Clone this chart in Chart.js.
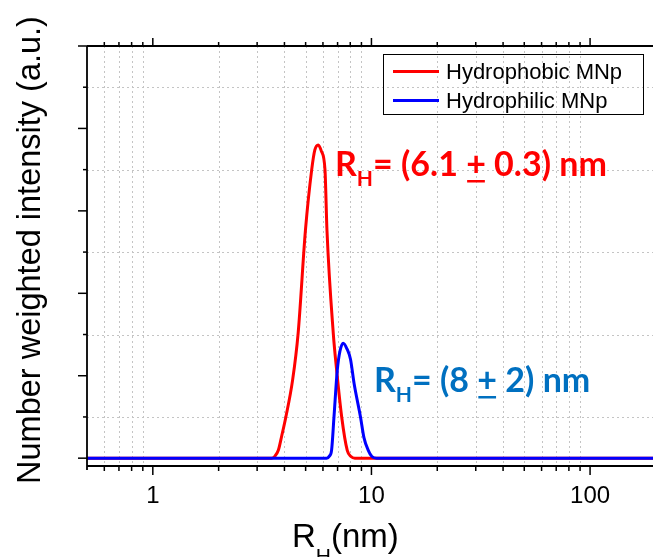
<!DOCTYPE html>
<html>
<head>
<meta charset="utf-8">
<script src="https://cdn.jsdelivr.net/npm/chart.js@4.4.1/dist/chart.umd.min.js"></script>
<style>
  html, body { margin: 0; padding: 0; background: #fff; }
  #wrap { width: 653px; height: 557px; }
</style>
</head>
<body>
<div id="wrap"><canvas id="dls"></canvas></div>
<script>
// values (R_H in nm, intensity in a.u.)
const hydrophobicX = [0.5, 3.49, 3.62, 3.75, 3.89, 4.06, 4.36, 4.62, 4.99, 5.33, 5.51, 5.71, 5.90, 6.13, 6.26, 6.69, 6.93, 7.31, 7.75, 8.06, 8.40, 194];
const hydrophobicY = [0, 0, 0.05, 0.19, 0.55, 1.0, 1.9, 3.03, 5.53, 7.0, 7.48, 7.6, 7.45, 7.0, 5.53, 3.03, 2.14, 1.0, 0.19, 0.04, 0, 0];
const hydrophilicX = [0.5, 6.24, 6.42, 6.57, 6.74, 6.98, 7.18, 7.43, 7.73, 8.02, 8.33, 8.91, 9.24, 9.67, 10.05, 10.56, 194];
const hydrophilicY = [0, 0, 0.05, 0.19, 1.0, 2.14, 2.6, 2.79, 2.65, 2.4, 1.81, 1.0, 0.5, 0.19, 0.04, 0, 0];
const seriesNames = ['Hydrophobic MNp', 'Hydrophilic MNp'];
const xMajorTicks = [1, 10, 100];
const yTicks = [0, 1, 2, 3, 4, 5, 6, 7, 8, 9, 10];

const toPoints = (xs, ys) => xs.map((x, i) => ({ x: x, y: ys[i] }));

const axisFont = '"Liberation Sans", Arial, sans-serif';
const noteFont = 'Lato, "Open Sans", sans-serif';

function drawRich(ctx, parts, x, y) {
    let cx = x;
    parts.forEach((p) => {
        ctx.font = `${p.weight || 'normal'} ${p.size}px ${p.family}`;
        ctx.fillStyle = p.color;
        ctx.textAlign = 'left';
        ctx.textBaseline = 'alphabetic';
        ctx.fillText(p.text, cx, y + (p.dy || 0));
        const w = ctx.measureText(p.text).width;
        if (p.underline) {
            ctx.fillRect(cx + 1, y + p.underline, w - 2, 2.5);
        }
        cx += w;
    });
}

const frameAndGrid = {
    id: 'frameAndGrid',
    beforeDatasetsDraw(chart) {
        const { ctx, chartArea: a, scales } = chart;
        const xs = scales.x, ys = scales.y;
        ctx.save();
        ctx.strokeStyle = '#c4c4c4';
        ctx.lineWidth = 1;
        ctx.setLineDash([2, 3]);
        // horizontal grid on odd values
        yTicks.filter((v) => v % 2 === 1).forEach((v) => {
            const py = Math.round(ys.getPixelForValue(v)) + 0.5;
            ctx.beginPath();
            ctx.moveTo(a.left, py);
            ctx.lineTo(a.right, py);
            ctx.stroke();
        });
        // vertical grid on minor log values
        [0.1, 1, 10, 100].forEach((d) => {
            for (let m = 2; m <= 9; m++) {
                const v = m * d;
                if (v <= xs.min || v >= xs.max) continue;
                const px = Math.round(xs.getPixelForValue(v)) + 0.5;
                ctx.beginPath();
                ctx.moveTo(px, a.top);
                ctx.lineTo(px, a.bottom);
                ctx.stroke();
            }
        });
        ctx.restore();
    },
    afterDraw(chart) {
        const { ctx, chartArea: a, scales } = chart;
        const xs = scales.x, ys = scales.y;
        ctx.save();
        ctx.strokeStyle = '#000';
        ctx.lineWidth = 1.8;
        ctx.setLineDash([]);
        ctx.beginPath();
        ctx.moveTo(a.left, a.top);
        ctx.lineTo(a.right, a.top);
        ctx.moveTo(a.left, a.top);
        ctx.lineTo(a.left, a.bottom + 4);
        ctx.moveTo(a.left, a.bottom);
        ctx.lineTo(a.right, a.bottom);
        ctx.stroke();

        ctx.lineWidth = 1.5;
        // y ticks
        yTicks.forEach((v) => {
            const py = ys.getPixelForValue(v);
            const len = v % 2 === 0 ? 9 : 4;
            ctx.beginPath();
            ctx.moveTo(a.left, py);
            ctx.lineTo(a.left - len, py);
            ctx.stroke();
        });
        // x ticks, bottom and top
        [0.1, 1, 10, 100].forEach((d) => {
            for (let m = 1; m <= 9; m++) {
                const v = m * d;
                if (v <= xs.min || v >= xs.max) continue;
                const px = xs.getPixelForValue(v);
                const major = m === 1;
                ctx.beginPath();
                ctx.moveTo(px, a.bottom);
                ctx.lineTo(px, a.bottom + (major ? 9 : 5));
                ctx.moveTo(px, a.top);
                ctx.lineTo(px, a.top - (major ? 8 : 4));
                ctx.stroke();
            }
        });

        // x tick labels
        ctx.fillStyle = '#000';
        ctx.font = `24px ${axisFont}`;
        ctx.textAlign = 'center';
        ctx.textBaseline = 'alphabetic';
        xMajorTicks.forEach((v) => {
            ctx.fillText(String(v), xs.getPixelForValue(v), 503);
        });

        // x title
        drawRich(ctx, [
            { text: 'R', size: 33, family: axisFont, color: '#000' },
            { text: 'H', size: 21, family: axisFont, color: '#000', dy: 16 },
            { text: '(nm)', size: 33, family: axisFont, color: '#000' }
        ], 292, 547);

        // y title
        ctx.save();
        ctx.translate(40, 250);
        ctx.rotate(-Math.PI / 2);
        ctx.font = `32.5px ${axisFont}`;
        ctx.textAlign = 'center';
        ctx.fillStyle = '#000';
        ctx.fillText('Number weighted intensity (a.u.)', 0, 0);
        ctx.restore();

        // legend
        ctx.lineWidth = 1;
        ctx.strokeStyle = '#000';
        ctx.strokeRect(383.5, 54.5, 260, 60);
        const colors = ['#ff0000', '#0000ff'];
        const rows = [71.5, 100.5];
        ctx.font = `22px ${axisFont}`;
        ctx.textAlign = 'left';
        seriesNames.forEach((name, i) => {
            ctx.strokeStyle = colors[i];
            ctx.lineWidth = 3;
            ctx.beginPath();
            ctx.moveTo(393, rows[i]);
            ctx.lineTo(439, rows[i]);
            ctx.stroke();
            ctx.fillStyle = '#000';
            ctx.fillText(name, 446, rows[i] + 7);
        });

        // peak annotations
        const red = '#ff0000', blue = '#0070c0';
        drawRich(ctx, [
            { text: 'R', size: 34, family: noteFont, weight: 'bold', color: red },
            { text: 'H', size: 21, family: noteFont, weight: 'bold', color: red, dy: 10 },
            { text: '= (6.1 ', size: 34, family: noteFont, weight: 'bold', color: red },
            { text: '+', size: 34, family: noteFont, weight: 'bold', color: red, underline: 4 },
            { text: ' 0.3) nm', size: 34, family: noteFont, weight: 'bold', color: red }
        ], 335, 176);
        drawRich(ctx, [
            { text: 'R', size: 34, family: noteFont, weight: 'bold', color: blue },
            { text: 'H', size: 21, family: noteFont, weight: 'bold', color: blue, dy: 10 },
            { text: '= (8 ', size: 34, family: noteFont, weight: 'bold', color: blue },
            { text: '+', size: 34, family: noteFont, weight: 'bold', color: blue, underline: 4 },
            { text: ' 2) nm', size: 34, family: noteFont, weight: 'bold', color: blue }
        ], 374, 392);
        ctx.restore();
    }
};

new Chart(document.getElementById('dls'), {
    type: 'scatter',
    data: {
        datasets: [
            {
                label: seriesNames[0],
                data: toPoints(hydrophobicX, hydrophobicY),
                showLine: true,
                borderColor: '#ff0000',
                borderWidth: 3,
                pointRadius: 0,
                cubicInterpolationMode: 'monotone',
                order: 1
            },
            {
                label: seriesNames[1],
                data: toPoints(hydrophilicX, hydrophilicY),
                showLine: true,
                borderColor: '#0000ff',
                borderWidth: 3,
                pointRadius: 0,
                cubicInterpolationMode: 'monotone',
                order: 0
            }
        ]
    },
    options: {
        responsive: true,
        maintainAspectRatio: false,
        animation: false,
        layout: { padding: { left: 87, top: 46, right: 0, bottom: 91 } },
        plugins: {
            legend: { display: false },
            tooltip: { enabled: false }
        },
        scales: {
            x: { type: 'logarithmic', min: 0.5, max: 194, display: false },
            y: { type: 'linear', min: -0.19, max: 10, display: false }
        }
    },
    plugins: [frameAndGrid]
});
</script>
</body>
</html>
